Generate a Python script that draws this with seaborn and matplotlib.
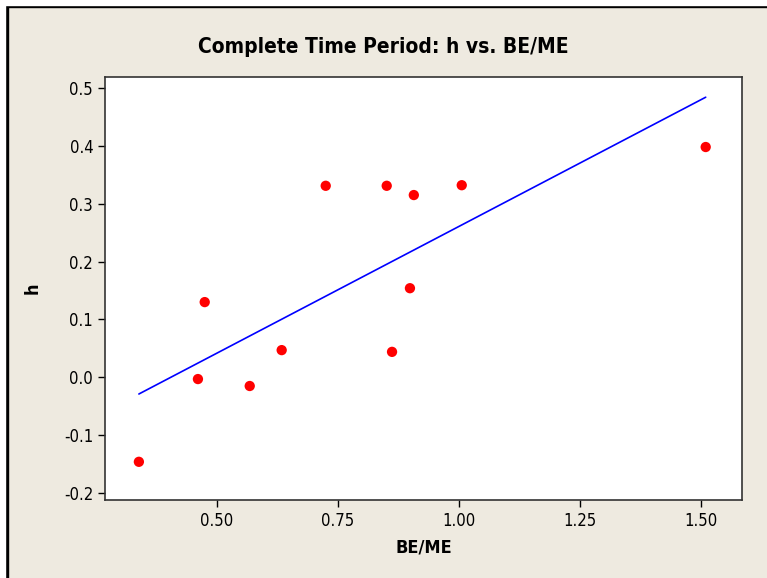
import numpy as np
import pandas as pd
import matplotlib
matplotlib.use("Agg")
import matplotlib.pyplot as plt
import seaborn as sns
from matplotlib.patches import Rectangle

# values
be_me = [0.339, 0.461, 0.475, 0.568, 0.634, 0.725, 0.851, 0.862, 0.899, 0.907, 1.006, 1.510]
h_vals = [-0.146, -0.003, 0.130, -0.015, 0.047, 0.331, 0.331, 0.044, 0.154, 0.315, 0.332, 0.398]
x_ticks = [0.50, 0.75, 1.00, 1.25, 1.50]
y_ticks = [-0.2, -0.1, 0.0, 0.1, 0.2, 0.3, 0.4, 0.5]

df = pd.DataFrame({"BE/ME": be_me, "h": h_vals})

sns.set_style("ticks")
plt.rcParams['font.family'] = ['DejaVu Sans']
plt.rcParams['font.stretch'] = 'condensed'
plt.rcParams['text.color'] = 'black'
plt.rcParams['axes.labelcolor'] = 'black'

bg = "#EEEAE0"
fig = plt.figure(figsize=(7.67, 5.78), dpi=100, facecolor=bg)
ax = fig.add_axes([105 / 767, 1 - 500 / 578, 637 / 767, 423 / 578])
ax.set_facecolor("white")

sns.regplot(data=df, x="BE/ME", y="h", ax=ax, ci=None,
            scatter_kws=dict(color="red", s=55, edgecolor="none", alpha=1, zorder=3),
            line_kws=dict(color="blue", lw=1.2, zorder=2))

ax.set_xlim(0.269, 1.585)
ax.set_ylim(-0.212, 0.519)
ax.set_xticks(x_ticks)
ax.set_xticklabels([f"{v:.2f}" for v in x_ticks])
ax.set_yticks(y_ticks)
ax.set_yticklabels([f"{v:.1f}" for v in y_ticks])
ax.tick_params(direction="out", length=5, width=1, labelsize=12, colors="black")
for s in ax.spines.values():
    s.set_visible(True)
    s.set_color("#333333")
    s.set_linewidth(1.2)

ax.set_xlabel("BE/ME", fontsize=13, fontweight="bold", labelpad=6, color="black")
ax.set_ylabel("h", fontsize=13, fontweight="bold", labelpad=16, color="black")
fig.text(0.5, 1 - 47 / 578, "Complete Time Period: h vs. BE/ME", ha="center", va="center",
         fontsize=15, fontweight="bold", color="black")

# black frame on top and left edge
fig.patches.append(Rectangle((0, 1 - 7 / 578), 1, 7 / 578, transform=fig.transFigure,
                             color="black", zorder=5))
fig.patches.append(Rectangle((0, 0), 8 / 767, 1, transform=fig.transFigure,
                             color="black", zorder=5))
fig.patches.append(Rectangle((0, 1 - 5 / 578), 1, 5 / 578, transform=fig.transFigure,
                             color="white", zorder=6))
fig.patches.append(Rectangle((0, 0), 5 / 767, 1, transform=fig.transFigure,
                             color="white", zorder=6))

fig.savefig("out.png", dpi=100, facecolor=bg)
